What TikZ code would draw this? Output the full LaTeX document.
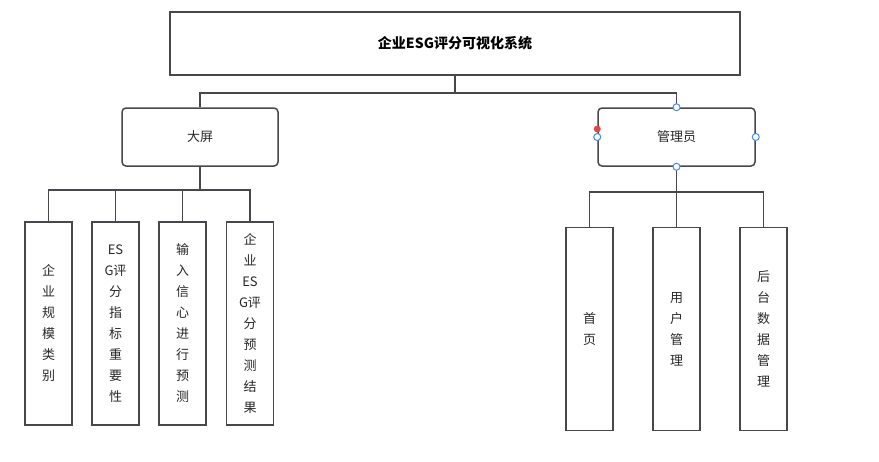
\documentclass[tikz,border=0pt]{standalone}
\usepackage{fontspec}
\newfontfamily\cjk{Noto Sans CJK SC}
\tikzset{every picture/.style={line width=1.5pt}}
\definecolor{edgegray}{RGB}{70,72,76}
\definecolor{textgray}{RGB}{40,40,40}
\definecolor{handleblue}{RGB}{70,140,230}
\definecolor{handlered}{RGB}{230,70,70}
\tikzset{
  box/.style={draw=edgegray, fill=white, text=textgray, font=\cjk\fontsize{13}{21}\selectfont, align=center, inner sep=0pt},
  topbox/.style={box, minimum width=156pt, minimum height=58pt, rounded corners=4pt},
  leafbox/.style={box, minimum width=47pt, minimum height=203pt},
  link/.style={draw=edgegray},
  handle/.style={circle, draw=handleblue, fill=white, line width=1pt, inner sep=0pt, minimum size=7pt}
}
\begin{document}
\begin{tikzpicture}[x=1pt,y=1pt,yscale=-1,xscale=1]
		\useasboundingbox (0,0) rectangle (879,461);

		%Shape: Rectangle [title]
		\node [box, minimum width=570pt, minimum height=63pt, font=\cjk\bfseries\fontsize{14}{16}\selectfont, text=black] (title) at (455,43.5) {企业ESG评分可视化系统};
		%Shape: Rounded Rectangle
		\node [topbox] (screen) at (200,137) {大屏};
		%Shape: Rounded Rectangle
		\node [topbox, minimum width=157pt] (admin) at (676.5,137) {管理员};

		%Shape: Rectangle
		\node [leafbox] (scale) at (48.5,323.5) {企\\业\\规\\模\\类\\别};
		%Shape: Rectangle
		\node [leafbox] (weight) at (115.5,323.5) {ES\\G评\\分\\指\\标\\重\\要\\性};
		%Shape: Rectangle
		\node [leafbox] (input) at (182.5,323.5) {输\\入\\信\\心\\进\\行\\预\\测};
		%Shape: Rectangle
		\node [leafbox] (result) at (250,323.5) {企\\业\\ES\\G评\\分\\预\\测\\结\\果};

		%Shape: Rectangle
		\node [leafbox] (home) at (589.5,329) {首\\页};
		%Shape: Rectangle
		\node [leafbox] (users) at (676.5,329) {用\\户\\管\\理};
		%Shape: Rectangle
		\node [leafbox] (backend) at (763.5,329) {后\\台\\数\\据\\管\\理};

		%Connectors
		\coordinate (tsplit) at (455,93);
		\coordinate (lsplit) at (200,190);
		\coordinate (rsplit) at (676.5,192);
		\draw [link] (title.south) -- (tsplit);
		\draw [link] (tsplit) -| (screen.north);
		\draw [link] (tsplit) -| (admin.north);
		\draw [link] (screen.south) -- (lsplit);
		\foreach \leaf in {scale,weight,input,result}
			\draw [link] (lsplit) -| (\leaf.north);
		\draw [link] (admin.south) -- (rsplit);
		\foreach \leaf in {home,users,backend}
			\draw [link] (rsplit) -| (\leaf.north);

		%Selection handles
		\foreach \side in {north,south,east,west}
			\node [handle] (h-\side) at (admin.\side) {};
		\node [circle, fill=handlered, inner sep=0pt, minimum size=7pt] (hred) at ([yshift=-8pt]admin.west) {};
\end{tikzpicture}
\end{document}
